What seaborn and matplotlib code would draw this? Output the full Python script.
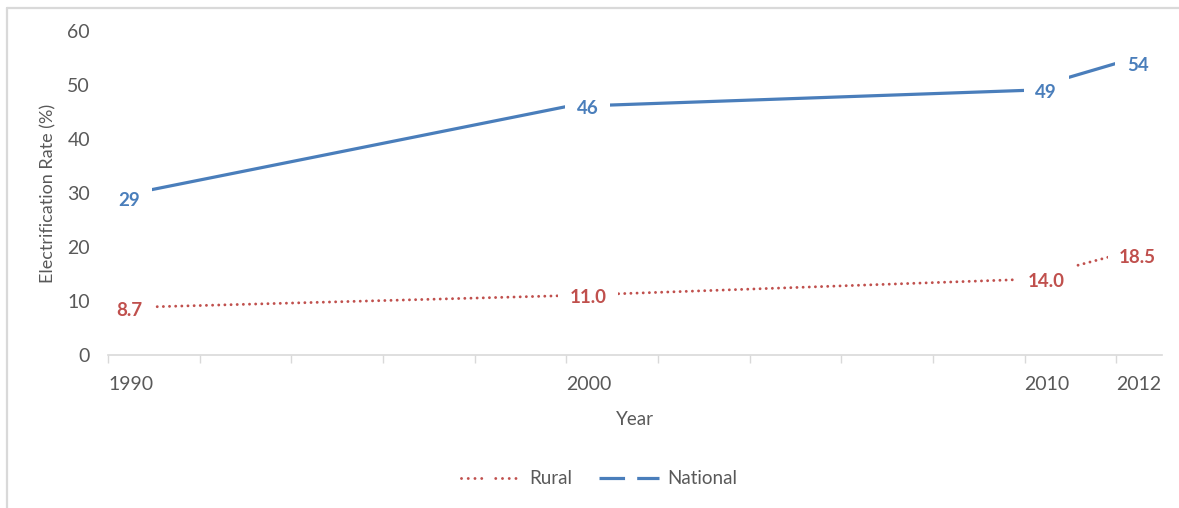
import matplotlib
matplotlib.use("Agg")
import matplotlib.pyplot as plt
from matplotlib.lines import Line2D
import pandas as pd
import seaborn as sns

# 数据
years = [1990, 2000, 2010, 2012]
national = [29, 46, 49, 54]
rural = [8.7, 11.0, 14.0, 18.5]
national_labels = ["29", "46", "49", "54"]
rural_labels = ["8.7", "11.0", "14.0", "18.5"]
major_years = [1990, 2000, 2010, 2012]
minor_years = [1992, 1994, 1996, 1998, 2002, 2004, 2006, 2008]

BLUE = "#4A7EBB"
RED = "#C0504D"
TEXT = "#595959"
GRID = "#D9D9D9"

sns.set_theme(style="white")
plt.rcParams["font.family"] = ["Lato", "DejaVu Sans"]

df = pd.DataFrame({"Year": years, "National": national, "Rural": rural})

fig = plt.figure(figsize=(11.79, 5.08), dpi=100)
ax = fig.add_axes([108 / 1179, 1 - 355 / 508, (1162 - 108) / 1179, (355 - 31) / 508])

sns.lineplot(data=df, x="Year", y="National", color=BLUE, linewidth=2.3, ax=ax)
sns.lineplot(data=df, x="Year", y="Rural", color=RED, linewidth=2.1,
             linestyle=(0, (0.01, 2.1)), dash_capstyle="round", ax=ax)

# 数据标签
def add_labels(xs, ys, texts, color):
    for x, y, t in zip(xs, ys, texts):
        ax.annotate(t, (x, y), xytext=(15.5, -1.5), textcoords="offset points",
                    ha="center", va="center", color=color, fontsize=13.5, fontweight="bold",
                    bbox=dict(boxstyle="square,pad=0.62", fc="white", ec="none"), zorder=5,
                    annotation_clip=False)


add_labels(years, national, national_labels, BLUE)
add_labels(years, rural, rural_labels, RED)

ax.set_xlim(1990, 2013)
ax.set_ylim(0, 60)
ax.set_yticks(range(0, 61, 10))
ax.set_xticks(major_years)
ax.set_xticks(minor_years, minor=True)
ax.set_xticklabels([str(y) for y in major_years], ha="left")

for s in ["left", "top", "right"]:
    ax.spines[s].set_visible(False)
ax.spines["bottom"].set_color(GRID)
ax.spines["bottom"].set_linewidth(1.2)

ax.tick_params(axis="x", which="both", direction="out", length=6, width=1,
               color=GRID, bottom=True, labelcolor=TEXT, labelsize=14, pad=9)
ax.tick_params(axis="y", length=0, labelcolor=TEXT, labelsize=14, pad=13)

ax.set_xlabel("Year", color=TEXT, fontsize=13.5)
ax.set_ylabel("Electrification Rate (%)", color=TEXT, fontsize=13)
ax.xaxis.set_label_coords(0.5, -0.200)
ax.xaxis.label.set_va("center")
ax.yaxis.set_label_coords(-0.057, 0.5)
ax.yaxis.label.set_va("center")

# 图例
handles = [
    Line2D([], [], color=RED, linewidth=2.1,
           linestyle=(0, (0.01, 2.3, 0.01, 2.3, 0.01, 2.3, 0.01, 4.8)), dash_capstyle="round"),
    Line2D([], [], color=BLUE, linewidth=2.3, linestyle=(0, (8.0, 3.8))),
]
fig.legend(handles, ["Rural", "National"], loc="center", bbox_to_anchor=(599 / 1179, 1 - 479 / 508),
           ncol=2, frameon=False, fontsize=13.5, labelcolor=TEXT, handlelength=3.2,
           columnspacing=1.4, handletextpad=0.45)

# 图表边框（左、上）
fig.add_artist(Line2D([7 / 1179, 7 / 1179], [0, 1 - 8 / 508], color=GRID, linewidth=1.6))
fig.add_artist(Line2D([7 / 1179, 1], [1 - 8 / 508, 1 - 8 / 508], color=GRID, linewidth=1.6))

fig.savefig("out.png", dpi=100)
plt.close(fig)
